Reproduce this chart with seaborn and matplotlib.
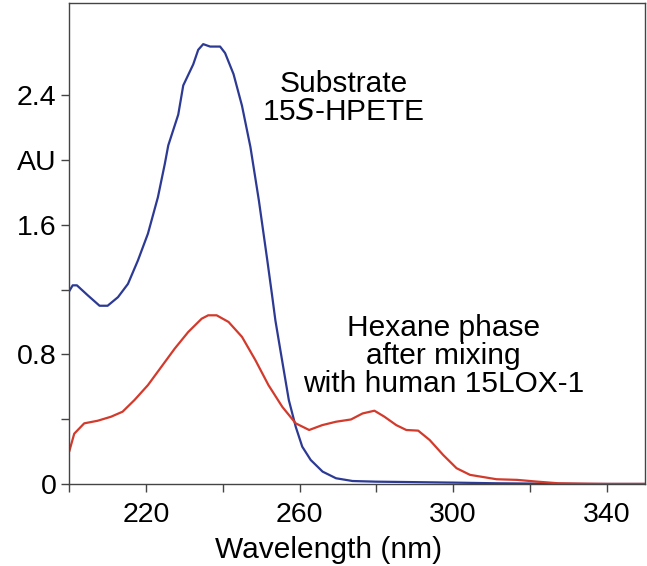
import numpy as np
import pandas as pd
import matplotlib
matplotlib.use("Agg")
import matplotlib.pyplot as plt
import seaborn as sns

# valores (nm, AU)
substrato_nm = [200, 200.9, 202.0, 204.8, 207.9, 210.0, 212.7, 215.3, 217.9, 220.5, 223.1,
                224.9, 225.8, 228.4, 229.7, 232.3, 233.6, 234.9, 236.7, 239.3, 240.6, 242.8,
                245.0, 247.2, 249.4, 251.6, 252.9, 253.7, 255.0, 257.2, 259.0, 260.7, 262.9,
                266.0, 269.5, 273.8, 279.9, 286.9, 300.5, 311.3, 322.0, 335.0, 350.0]
substrato_au = [1.19, 1.226, 1.226, 1.165, 1.10, 1.10, 1.153, 1.235, 1.38, 1.545, 1.77,
                1.976, 2.09, 2.28, 2.46, 2.59, 2.68, 2.715, 2.70, 2.70, 2.66, 2.53,
                2.335, 2.08, 1.75, 1.38, 1.154, 1.01, 0.826, 0.518, 0.353, 0.23, 0.148,
                0.076, 0.035, 0.018, 0.014, 0.012, 0.008, 0.004, 0.002, 0.0, 0.0]

hexano_nm = [200, 201.3, 203.9, 207.4, 210.9, 213.9, 217.0, 220.5, 224.0, 227.5, 231.0,
             234.5, 236.2, 238.4, 241.5, 245.0, 248.5, 251.9, 255.5, 259.0, 262.5, 265.9,
             269.5, 273.4, 276.4, 279.5, 282.1, 285.2, 287.8, 290.9, 293.9, 297.4, 300.9,
             304.4, 311.3, 316.7, 322.0, 327.4, 332.8, 340.0, 350.0]
hexano_au = [0.20, 0.31, 0.374, 0.39, 0.415, 0.446, 0.518, 0.61, 0.723, 0.836, 0.938,
             1.02, 1.041, 1.041, 1.0, 0.908, 0.764, 0.61, 0.476, 0.374, 0.333, 0.363,
             0.384, 0.398, 0.435, 0.452, 0.415, 0.363, 0.333, 0.329, 0.271, 0.179, 0.097,
             0.056, 0.029, 0.025, 0.014, 0.004, 0.002, 0.0, 0.0]

yticks = [0, 0.4, 0.8, 1.2, 1.6, 2.0, 2.4]
ytick_labels = ['0', '', '0.8', '', '1.6', 'AU', '2.4']
xticks = [200, 220, 240, 260, 280, 300, 320, 340]
xtick_labels = ['', '220', '', '260', '', '300', '', '340']

sns.set_theme(style="ticks")
plt.rcParams['font.family'] = ['Liberation Sans', 'DejaVu Sans']
plt.rcParams['text.color'] = 'black'

fig = plt.figure(figsize=(6.47, 5.66), dpi=100)
ax = fig.add_axes([0.107, 0.145, 0.890, 0.850])

df_sub = pd.DataFrame({'nm': substrato_nm, 'au': substrato_au})
df_hex = pd.DataFrame({'nm': hexano_nm, 'au': hexano_au})
sns.lineplot(data=df_sub, x='nm', y='au', ax=ax, color='#2c3a94', linewidth=1.6)
sns.lineplot(data=df_hex, x='nm', y='au', ax=ax, color='#d23a2c', linewidth=1.6)

ax.set_xlim(200, 350)
ax.set_ylim(0, 2.97)
ax.set_yticks(yticks)
ax.set_yticklabels(ytick_labels)
ax.set_xticks(xticks)
ax.set_xticklabels(xtick_labels)
ax.tick_params(axis='both', labelsize=20.5, length=6, width=1, color='#444444',
               labelcolor='black')
ax.tick_params(axis='x', pad=7)
ax.tick_params(axis='y', pad=3)
# o rotulo do eixo x fica deslocado para a esquerda no original
ax.set_xlabel('Wavelength (nm)', fontsize=21.5, labelpad=6, color='black', x=0.45)
ax.set_ylabel('')
for s in ax.spines.values():
    s.set_color('#444444')
    s.set_linewidth(1.0)

ax.text(271.5, 2.38, 'Substrate\n15$\\it{S}$-HPETE', ha='center', va='center',
        fontsize=21.5, linespacing=1.0)
ax.text(297.5, 0.79, 'Hexane phase\nafter mixing\nwith human 15LOX-1', ha='center',
        va='center', fontsize=21.5, linespacing=1.0)

fig.savefig('out.png', dpi=100)
